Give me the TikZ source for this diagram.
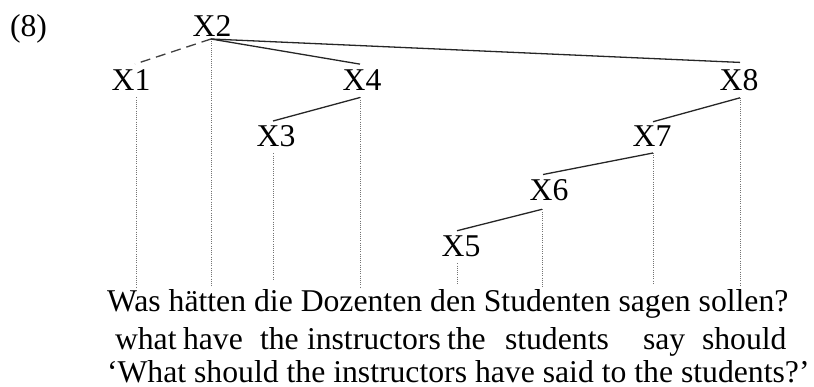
\documentclass[tikz,border=0pt]{standalone}
\usepackage{fontspec}
\setmainfont{Liberation Serif}
\begin{document}
\begin{tikzpicture}[x=1pt,y=-1pt,
  font=\fontsize{31.7pt}{36pt}\selectfont,
  lab/.style={inner sep=0pt, outer sep=0pt, anchor=base},
  txt/.style={inner sep=0pt, outer sep=0pt, anchor=base west},
  branch/.style={line width=1.3pt, black!85},
  dashbranch/.style={line width=1.3pt, black!75, dash pattern=on 10pt off 6pt},
  dotline/.style={line width=0.8pt, black!55, dash pattern=on 1pt off 1.2pt}]
\useasboundingbox (0,0) rectangle (814,387);

% labels
\node[txt] (num) at (10,36.5) {(8)};
\node[lab] (x2) at (212,36.5) {X2};
\node[lab] (x1) at (131,91) {X1};
\node[lab] (x4) at (362,91) {X4};
\node[lab] (x8) at (739,91) {X8};
\node[lab] (x3) at (276,146.5) {X3};
\node[lab] (x7) at (652,146.5) {X7};
\node[lab] (x6) at (549,201) {X6};
\node[lab] (x5) at (461,256.5) {X5};

% attachment points
\coordinate (x2b) at ([xshift=-1pt,yshift=-2.5pt]x2.south);
\coordinate (x1t) at ([xshift=4pt,yshift=6pt]x1.north);
\coordinate (x1b) at ([xshift=5pt,yshift=-6.5pt]x1.south);
\coordinate (x4t) at ([xshift=-2pt,yshift=6pt]x4.north);
\coordinate (x4b) at ([xshift=-2pt,yshift=-6.5pt]x4.south);
\coordinate (x8t) at ([xshift=1pt,yshift=7.5pt]x8.north);
\coordinate (x8b) at ([xshift=1pt,yshift=-6.5pt]x8.south);
\coordinate (x3t) at ([xshift=-3pt,yshift=4.5pt]x3.north);
\coordinate (x3b) at ([xshift=-3pt,yshift=-6.5pt]x3.south);
\coordinate (x7t) at ([xshift=1pt,yshift=4pt]x7.north);
\coordinate (x7b) at ([xshift=1pt,yshift=-6.5pt]x7.south);
\coordinate (x6t) at ([xshift=-6pt,yshift=5.5pt]x6.north);
\coordinate (x6b) at ([xshift=-7pt,yshift=-8pt]x6.south);
\coordinate (x5t) at ([xshift=-4pt,yshift=5pt]x5.north);
\coordinate (x5b) at ([xshift=-4pt,yshift=-6.5pt]x5.south);

\coordinate (floorA) at (0,287);
\coordinate (floorB) at (0,285);
\coordinate (floorC) at (0,279);

% branches
\draw[dashbranch] (x2b) -- (x1t);
\draw[branch] (x2b) -- (x4t);
\draw[branch] (x2b) -- (x8t);
\draw[branch] (x4b) -- (x3t);
\draw[branch] (x8b) -- (x7t);
\draw[branch] (x7b) -- (x6t);
\draw[branch] (x6b) -- (x5t);

% dotted association lines
\draw[dotline] ([yshift=-2pt]x2b) -- (x2b |- floorA);
\draw[dotline] (x1b) -- (x1b |- floorA);
\draw[dotline] (x4b) -- (x4b |- floorA);
\draw[dotline] (x3b) -- (x3b |- floorC);
\draw[dotline] (x8b) -- (x8b |- floorB);
\draw[dotline] (x7b) -- (x7b |- floorB);
\draw[dotline] (x6b) -- (x6b |- floorA);
\draw[dotline] (x5b) -- (x5b |- floorB);

% sentence
\node[txt] (de) at (107,312) {Was hätten die Dozenten den Studenten sagen sollen?};
\node[txt] (g1) at (115,349) {what};
\node[txt] (g2) at (183,349) {have};
\node[txt] (g3) at (260,349) {the};
\node[txt] (g4) at (307,349) {instructors};
\node[txt] (g5) at (447,349) {the};
\node[txt] (g6) at (505,349) {students};
\node[txt] (g7) at (643,349) {say};
\node[txt] (g8) at (702,349) {should};
\node[txt] (tr) at (107,382.5) {‘What should the instructors have said to the students?’};
\end{tikzpicture}
\end{document}
